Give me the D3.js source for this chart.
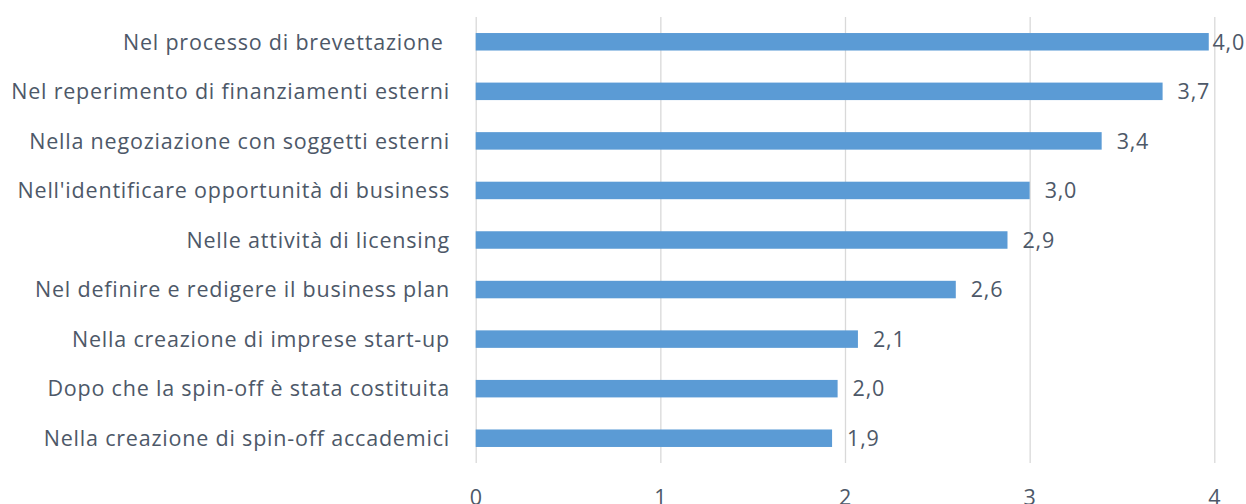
<!DOCTYPE html>
<html>
<head>
<meta charset="utf-8">
<script src="https://cdn.jsdelivr.net/npm/d3@7"></script>
<style>
  html, body { margin: 0; padding: 0; background: #ffffff; }
  svg { display: block; }
  text { font-family: "Open Sans", Lato, sans-serif; fill: #4d5868; letter-spacing: 0.8px; }
</style>
</head>
<body>
<svg id="chart" width="1246" height="504"></svg>
<script>
// Categories (top to bottom) and average scores
const categories = [
  "Nel processo di brevettazione ",
  "Nel reperimento di finanziamenti esterni",
  "Nella negoziazione con soggetti esterni",
  "Nell'identificare opportunità di business",
  "Nelle attività di licensing",
  "Nel definire e redigere il business plan",
  "Nella creazione di imprese start-up",
  "Dopo che la spin-off è stata costituita",
  "Nella creazione di spin-off accademici"
];
const values = [3.97, 3.72, 3.39, 3.00, 2.88, 2.60, 2.07, 1.96, 1.93];
const xTicks = [0, 1, 2, 3, 4];

const W = 1246, H = 504;
const plot = { left: 475.7, right: 1214.3, top: 17, bottom: 463 };
const fontSize = 21.5;

const svg = d3.select("#chart");

const x = d3.scaleLinear().domain([0, 4]).range([plot.left, plot.right]);
const y = d3.scaleBand()
  .domain(categories)
  .range([plot.top, plot.bottom])
  .paddingInner(0.647)
  .paddingOuter(0.3235);

// vertical gridlines
const grid = svg.append("g")
  .attr("transform", `translate(0,${plot.bottom})`)
  .call(d3.axisBottom(x).tickValues(xTicks).tickSize(-(plot.bottom - plot.top)).tickFormat(""));
grid.select(".domain").remove();
grid.selectAll(".tick line").attr("stroke", "#d9d9d9").attr("stroke-width", 1.3);

// x tick labels
const xa = svg.append("g")
  .attr("transform", `translate(0,${plot.bottom})`)
  .call(d3.axisBottom(x).tickValues(xTicks).tickSize(0).tickPadding(0).tickFormat(d3.format("d")));
xa.select(".domain").remove();
xa.selectAll(".tick text")
  .attr("y", 0)
  .attr("dy", 0)
  .attr("transform", "translate(0,42)")
  .style("font-size", fontSize + "px")
  .style("font-family", "'Open Sans', Lato, sans-serif")
  .attr("fill", "#4d5868");

// bars
svg.append("g").selectAll("rect")
  .data(values)
  .join("rect")
  .attr("x", x(0))
  .attr("y", (d, i) => y(categories[i]))
  .attr("width", d => x(d) - x(0))
  .attr("height", y.bandwidth())
  .attr("fill", "#5b9bd5");

// category labels
svg.append("g").selectAll("text")
  .data(categories)
  .join("text")
  .attr("x", 450)
  .attr("y", d => y(d) + y.bandwidth() / 2)
  .attr("dy", "0.36em")
  .attr("text-anchor", "end")
  .style("white-space", "pre")
  .style("font-size", fontSize + "px")
  .text(d => d);

// value labels, kept inside the canvas
const fmt = v => d3.format(".1f")(v).replace(".", ",");
svg.append("g").selectAll("text")
  .data(values)
  .join("text")
  .attr("y", (d, i) => y(categories[i]) + y.bandwidth() / 2)
  .attr("dy", "0.36em")
  .style("font-size", fontSize + "px")
  .text(d => fmt(d))
  .each(function(d) {
    const w = this.getComputedTextLength();
    d3.select(this).attr("x", Math.min(x(d) + 15, W - w - 1));
  });
</script>
</body>
</html>
